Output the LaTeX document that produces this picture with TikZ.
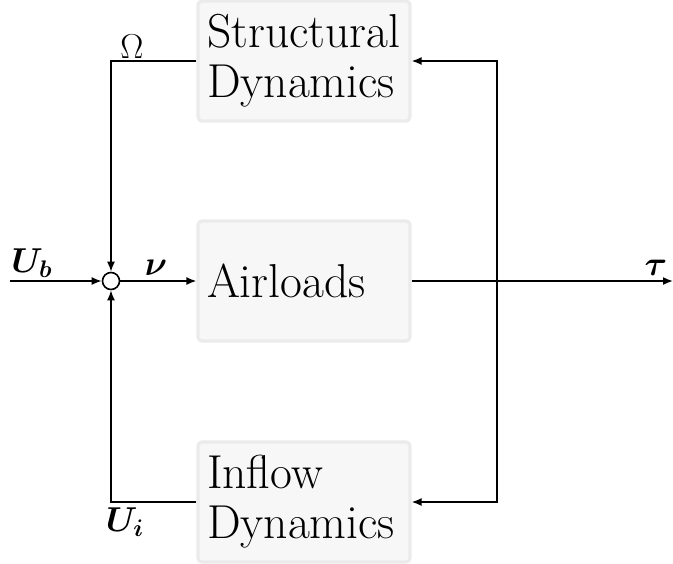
\documentclass[tikz,border=0pt]{standalone}
\usepackage{amsmath,bm}
\usetikzlibrary{arrows.meta}
\definecolor{boxfill}{HTML}{F7F7F7}
\definecolor{boxedge}{HTML}{EBEBEB}
\begin{document}
\begin{tikzpicture}[x=0.5pt,y=-0.5pt,
  block/.style={draw=boxedge, fill=boxfill, line width=1.6pt, rounded corners=2pt,
    minimum width=106pt, minimum height=60pt, text width=97pt, align=left,
    inner sep=0pt, font=\fontsize{23.8}{25}\selectfont},
  sig/.style={line width=0.8pt, -{Latex[length=5pt,width=4pt]}},
  lbl/.style={font=\fontsize{16.5}{18}\selectfont}]
\useasboundingbox (0,0) rectangle (673,563);

% blocks
\node[block] (struct) at (304,61) {Structural\\Dynamics};
\node[block] (air) at (304,281) {Airloads};
\node[block] (inflow) at (304,502) {Inflow\\Dynamics};

% summing junction
\node[draw, circle, line width=0.8pt, minimum size=8.5pt, inner sep=0pt] (sum) at (111,281) {};

% free ends and branch point
\coordinate (in) at (10,281);
\coordinate (out) at (673,281);
\coordinate (split) at (497,281);

% signal paths
\draw[sig] (in) -- (sum);
\draw[sig] (sum) -- (sum -| air.west);
\draw[sig] (struct.west) -| (sum.north);
\draw[sig] (inflow.west) -| (sum.south);
\draw[sig] (air.east |- out) -- (out);
\draw[sig] (split) |- (struct.east);
\draw[sig] (split) |- (inflow.east);

% labels
\node[lbl] (lomega) at (132,47) {$\Omega$};
\node[lbl] (lub) at (32,263) {$\bm{U_b}$};
\node[lbl] (lnu) at (156,268) {$\bm{\nu}$};
\node[lbl] (ltau) at (656,268) {$\bm{\tau}$};
\node[lbl] (lui) at (125,522) {$\bm{U_i}$};
\end{tikzpicture}
\end{document}
